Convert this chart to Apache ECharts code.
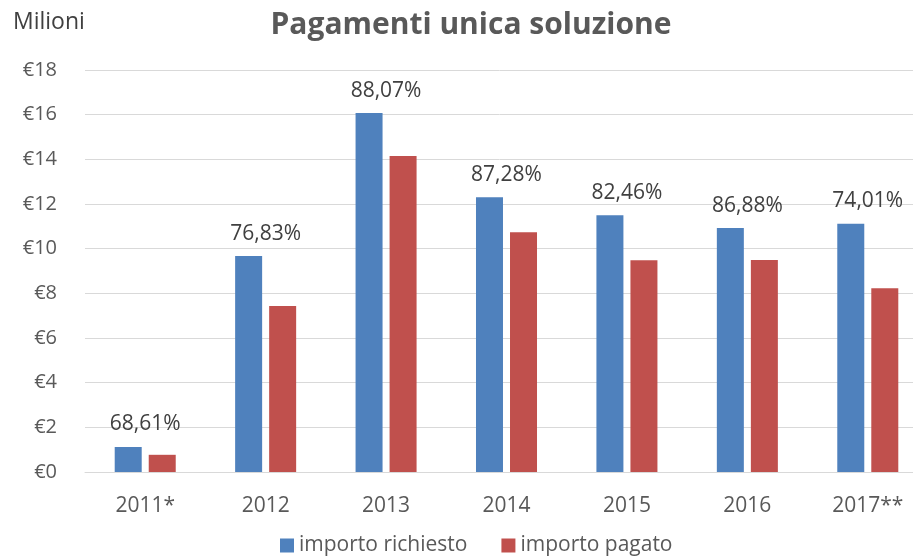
<!DOCTYPE html>
<html>
<head>
<meta charset="utf-8">
<script src="https://cdn.jsdelivr.net/npm/echarts@6/dist/echarts.min.js"></script>
<style>
html, body { margin: 0; padding: 0; background: #fff; }
#chart { width: 913px; height: 558px; }
</style>
</head>
<body>
<div id="chart"></div>
<script>
// dati (milioni di euro)
var anni = ['2011*', '2012', '2013', '2014', '2015', '2016', '2017**'];
var richiesto = [1.12, 9.67, 16.07, 12.30, 11.50, 10.92, 11.12];
var pagato = [0.77, 7.43, 14.15, 10.74, 9.48, 9.49, 8.23];
var percentuali = ['68,61%', '76,83%', '88,07%', '87,28%', '82,46%', '86,88%', '74,01%'];

var font = '"Open Sans", sans-serif';

var option = {
    animation: false,
    textStyle: {fontFamily: font},
    title: {
        text: 'Pagamenti unica soluzione',
        left: 466,
        top: 5,
        textAlign: 'center',
        textStyle: {fontSize: 30, fontWeight: 'bold', color: '#595959', fontFamily: font}
    },
    graphic: [{
        type: 'text',
        left: 13,
        top: 11,
        style: {text: 'Milioni', fontSize: 23, fill: '#404040', fontFamily: font}
    }],
    legend: {
        top: 530,
        left: 275,
        itemWidth: 14,
        itemHeight: 14,
        itemGap: 34,
        icon: 'rect',
        textStyle: {fontSize: 21, color: '#595959', fontFamily: font},
        data: ['importo richiesto', 'importo pagato']
    },
    grid: {left: 85, top: 70, width: 843, height: 402, outerBoundsMode: 'none'},
    xAxis: {
        type: 'category',
        data: anni,
        axisTick: {show: false},
        axisLine: {lineStyle: {color: '#d9d9d9', width: 1}},
        axisLabel: {fontSize: 21, color: '#595959', margin: 24, fontFamily: font}
    },
    yAxis: {
        type: 'value',
        min: 0,
        max: 18,
        interval: 2,
        axisLabel: {
            fontSize: 20, color: '#595959', margin: 28, fontFamily: font,
            formatter: function (v) { return '€' + v; }
        },
        splitLine: {lineStyle: {color: '#d9d9d9', width: 1}}
    },
    series: [
        {
            name: 'importo richiesto',
            type: 'bar',
            data: richiesto,
            barWidth: 27,
            barGap: '26%',
            itemStyle: {color: '#4f81bd'},
            label: {
                show: true,
                position: 'top',
                distance: 12,
                offset: [17, 0],
                fontSize: 21,
                color: '#404040',
                fontFamily: font,
                formatter: function (p) { return percentuali[p.dataIndex]; }
            }
        },
        {
            name: 'importo pagato',
            type: 'bar',
            data: pagato,
            barWidth: 27,
            itemStyle: {color: '#c0504d'}
        }
    ]
};

var myChart = echarts.init(document.getElementById('chart'));
myChart.setOption(option);
</script>
</body>
</html>
